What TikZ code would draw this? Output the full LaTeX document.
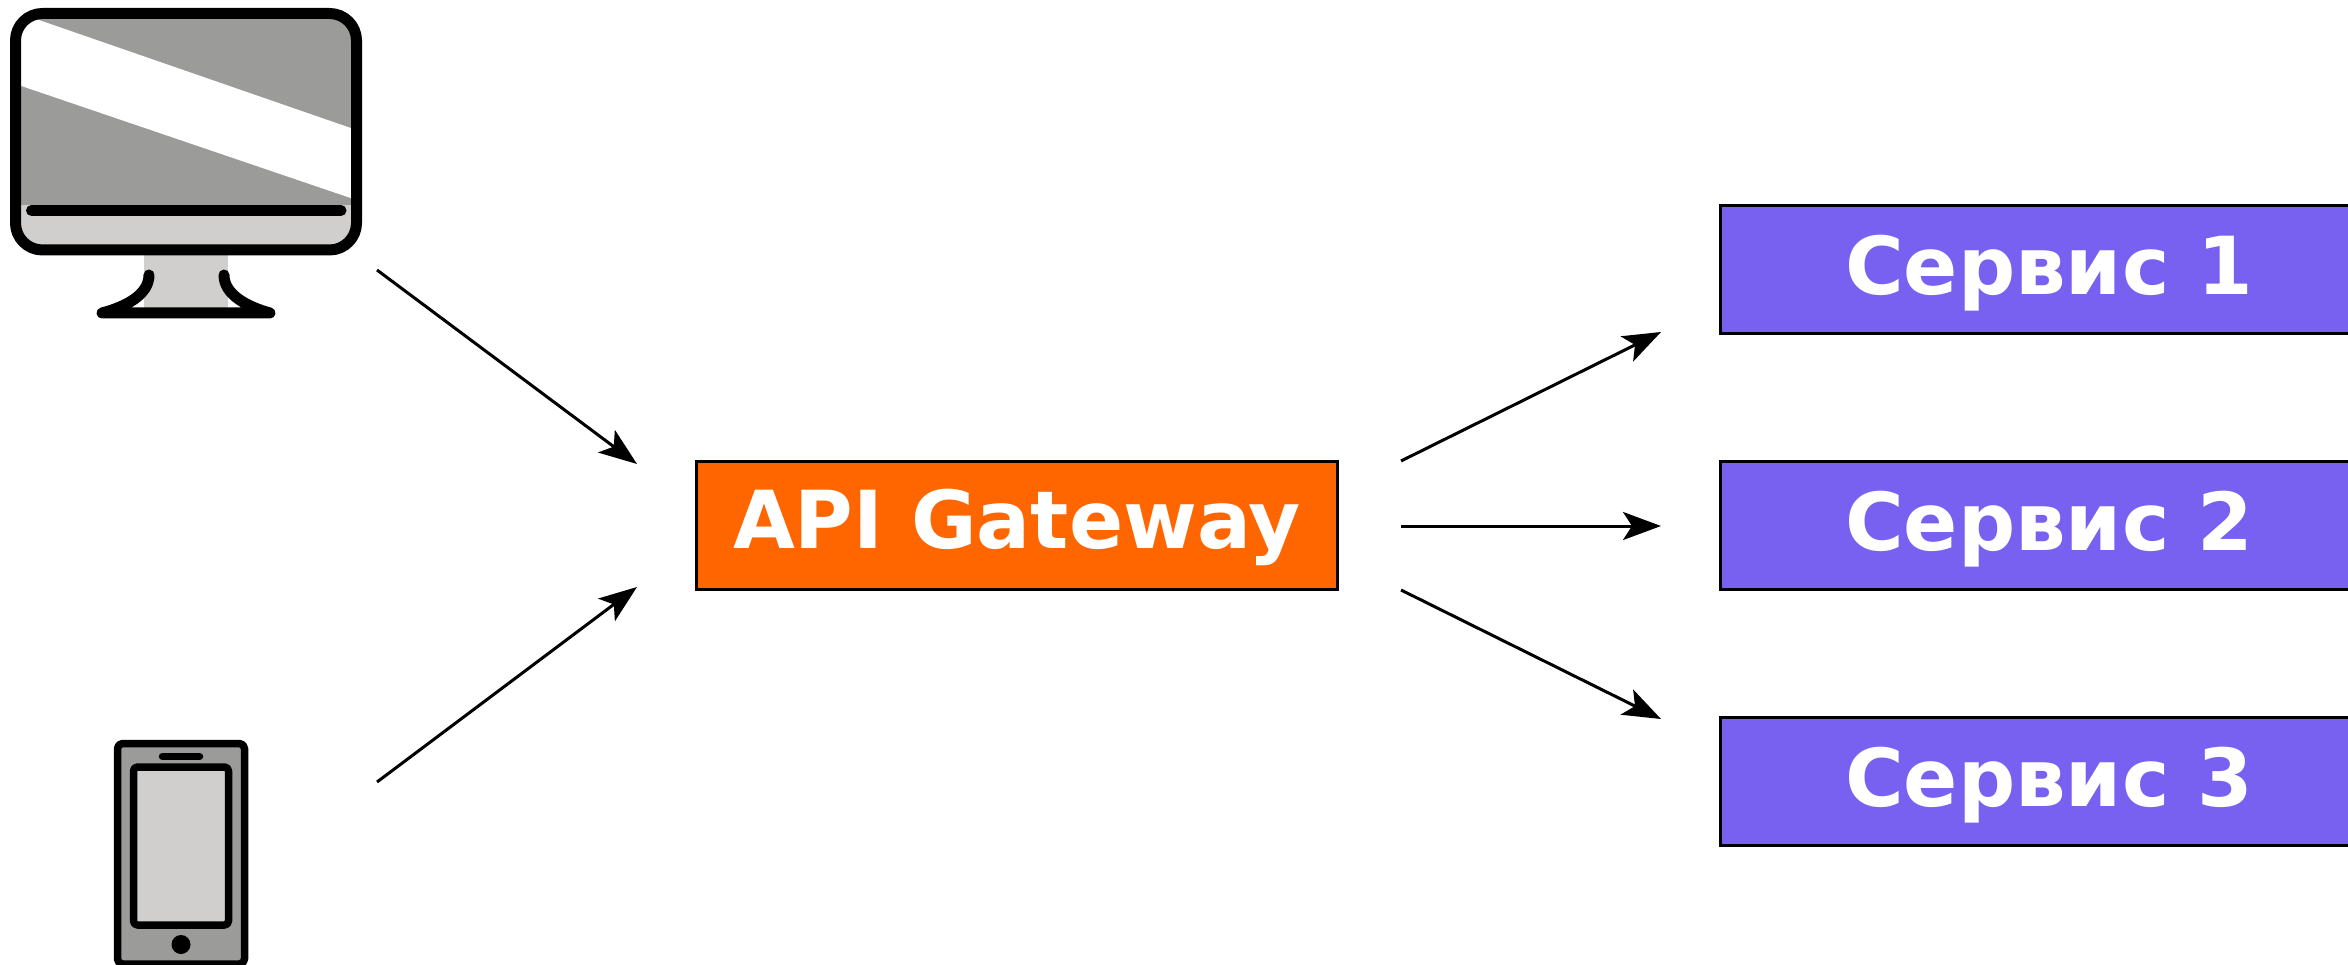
\documentclass[tikz,border=0pt]{standalone}
\usepackage{fontspec}
\setmainfont{DejaVu Sans}
\usetikzlibrary{arrows.meta}
\definecolor{dgrey}{HTML}{9B9B9A}
\definecolor{lgrey}{HTML}{D0CFCE}
\definecolor{gworange}{HTML}{FF6600}
\definecolor{svcpurple}{HTML}{7860F0}
\tikzset{
  blockbox/.style={draw=black,line width=3pt,text=white,font=\fontsize{80}{80}\selectfont\bfseries,
    minimum height=128.5pt,inner sep=0pt,outer sep=0pt,text height=60pt,text depth=15pt},
  gateway/.style={blockbox,fill=gworange,minimum width=641pt},
  service/.style={blockbox,fill=svcpurple,minimum width=657pt,text depth=10pt},
  conn/.style={draw=black,line width=3pt,-{Stealth[length=38pt,width=28pt,inset=9pt]}},
  icon/.style={draw=black,line width=11pt,line cap=round,line join=round},
  phoneline/.style={draw=black,line width=7.5pt,line cap=round,line join=round}
}
\begin{document}
\begin{tikzpicture}[x=1pt,y=-1pt]
\useasboundingbox (0,0) rectangle (2348,965);
\begin{scope}
\clip (0,0) rectangle (2348,965);
% monitor
\fill[lgrey] (144,250) rectangle (228,310);
\begin{scope}
\clip[rounded corners=27pt] (15.5,13.5) rectangle (356.5,250);
\fill[lgrey] (15.5,13.5) rectangle (356.5,250);
\fill[dgrey] (15.5,13.5) rectangle (356.5,205);
\fill[white] (15.5,17) -- (36,19) -- (356.5,130) -- (356.5,200) -- (15.5,84) -- cycle;
\end{scope}
\draw[icon,rounded corners=27pt] (15.5,13.5) rectangle (356.5,250);
\draw[icon] (31.5,210.5) -- (341,210.5);
\draw[icon] (149,275) .. controls (149,295) and (125,307) .. (102,313) -- (270,313) .. controls (248,307) and (224,295) .. (224,275);
% phone
\filldraw[phoneline,fill=dgrey,rounded corners=5pt] (117.5,743.5) rectangle (244.5,964);
\filldraw[phoneline,fill=lgrey,rounded corners=4pt] (133.5,767) rectangle (228.5,925);
\draw[phoneline] (162.5,756.5) -- (199.5,756.5);
\fill[black] (181,944.5) circle (9.5pt);
% blocks
\node[gateway] (gw) at (1017,525.5) {API Gateway};
\node[service] (s1) at (2049,269.75) {Сервис 1};
\node[service] (s2) at (2049,525.5) {Сервис 2};
\node[service] (s3) at (2049,781.5) {Сервис 3};
\end{scope}
% connector ends
\coordinate (pcout) at (377,270);
\coordinate (mobout) at (377,782);
\coordinate (gwinA) at (637,464);
\coordinate (gwinB) at (637,587);
\coordinate (gwoutA) at (1401,461);
\coordinate (gwoutB) at (1401,526);
\coordinate (gwoutC) at (1401,590);
\coordinate (s1in) at (1661,332);
\coordinate (s2in) at (1661,526);
\coordinate (s3in) at (1661,719);
\draw[conn] (pcout) -- (gwinA);
\draw[conn] (mobout) -- (gwinB);
\draw[conn] (gwoutA) -- (s1in);
\draw[conn] (gwoutB) -- (s2in);
\draw[conn] (gwoutC) -- (s3in);
\end{tikzpicture}
\end{document}
